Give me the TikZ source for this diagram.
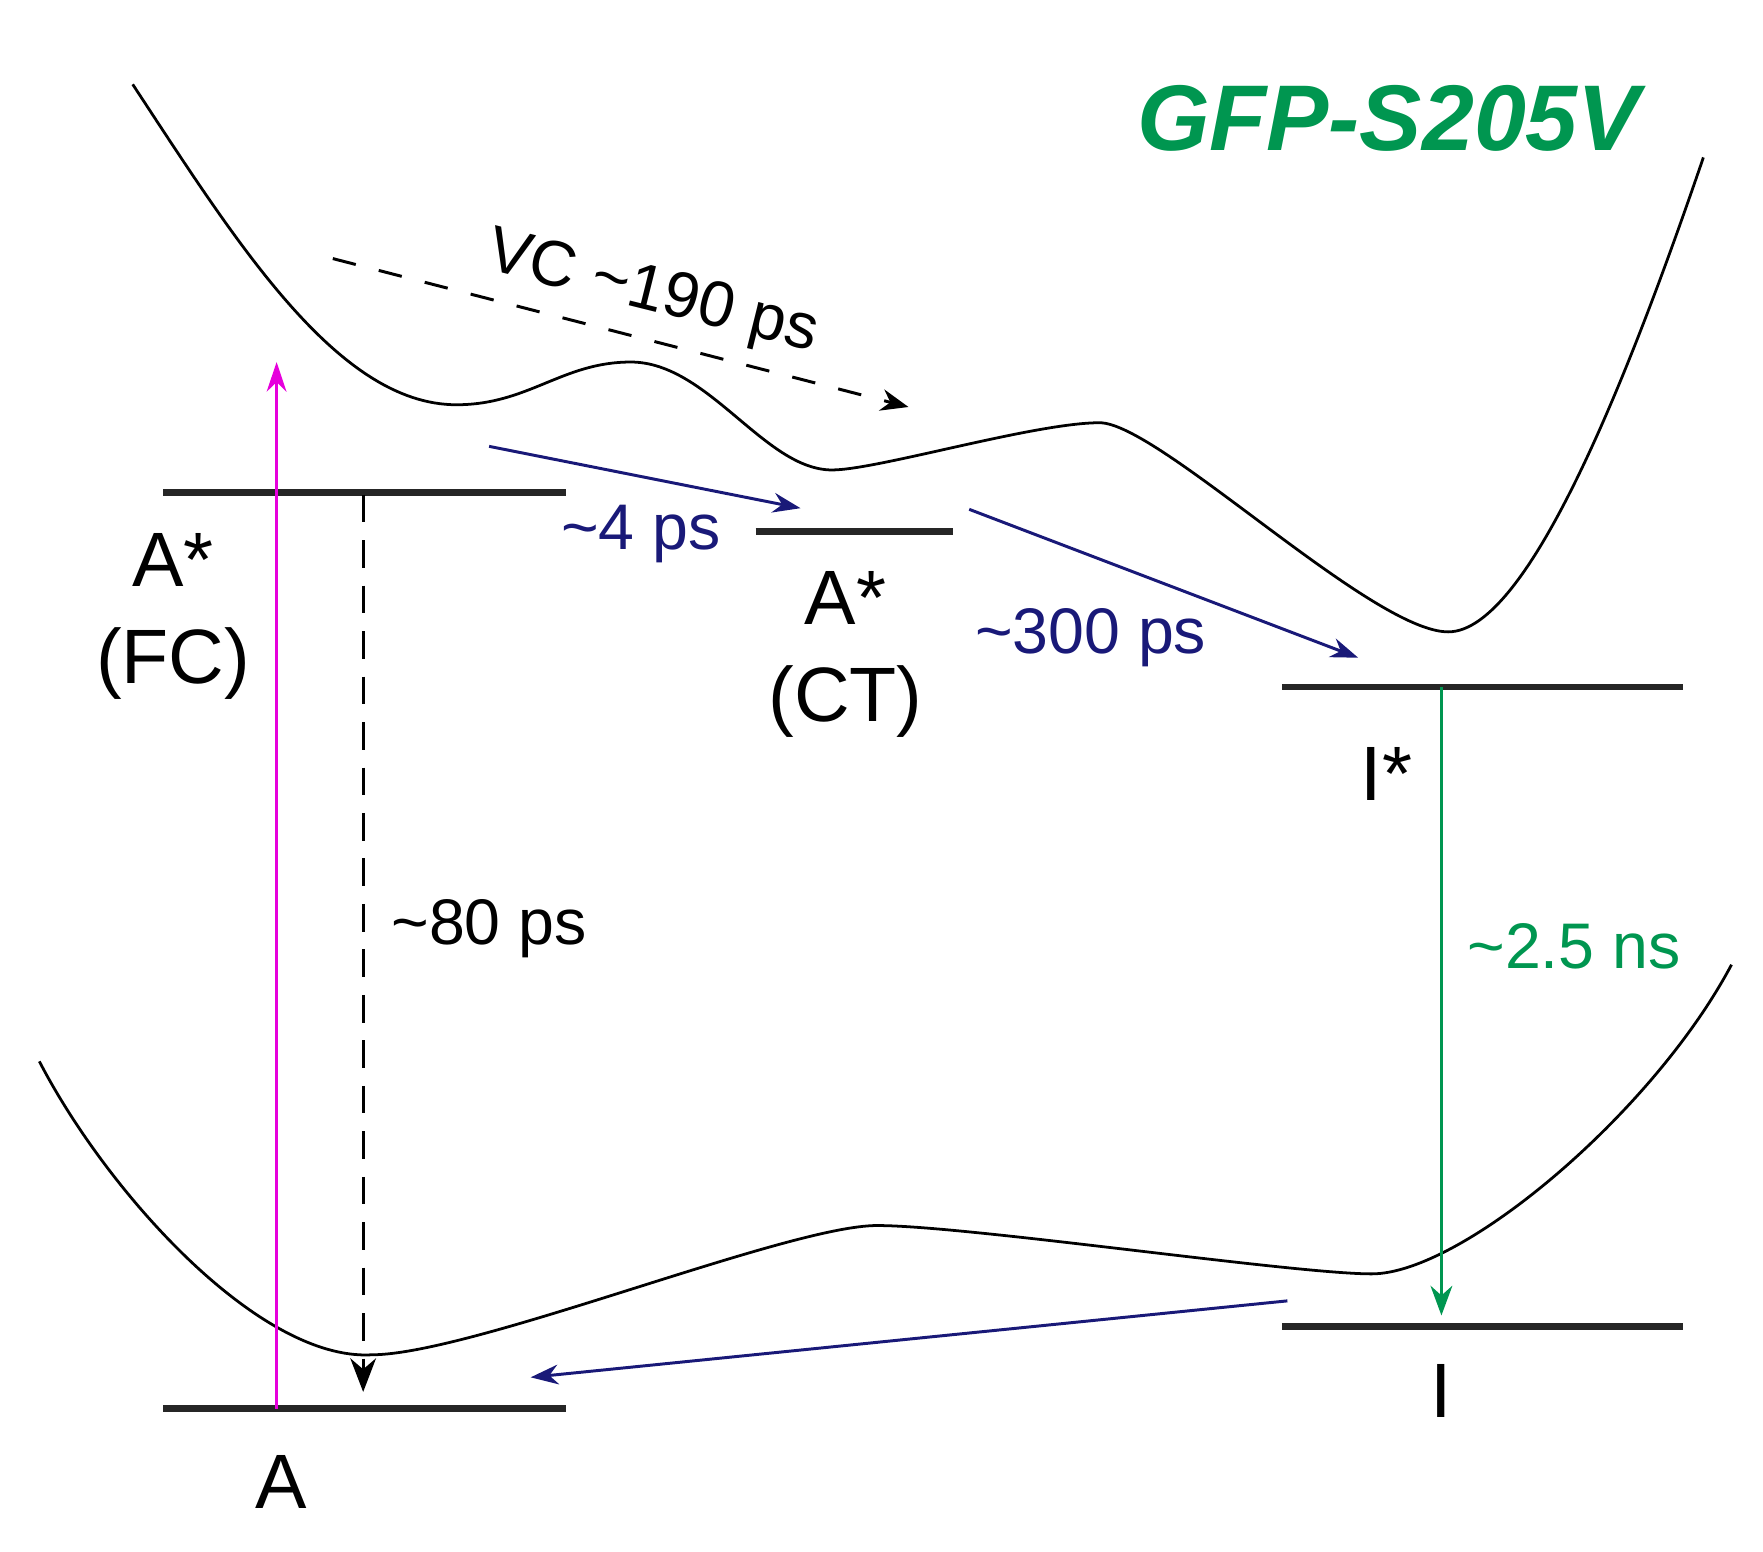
\documentclass[tikz,border=0pt]{standalone}
\usepackage{fontspec}
\setmainfont{Liberation Sans}
\usetikzlibrary{arrows.meta}
\usetikzlibrary{positioning}
\usepackage{xcolor}

\definecolor{gfpgreen}{RGB}{0,150,80}
\definecolor{ratenavy}{RGB}{25,25,120}
\definecolor{pumpmag}{RGB}{230,0,220}

\newcommand{\statefont}{\fontsize{19.5}{24.5}\selectfont}
\newcommand{\ratefont}{\fontsize{16.3}{19}\selectfont}

\begin{document}
\begin{tikzpicture}[x=0.01cm, y=-0.01cm,
	level/.style={line width=1.7pt, draw=black!85},
	pes/.style={line width=0.7pt},
	rate/.style={-{Stealth[length=7pt,width=5pt]}, line width=0.75pt, ratenavy},
	relax/.style={-{Stealth[length=8.5pt,width=6.5pt]}, line width=0.75pt, dash pattern=on 7pt off 4.5pt},
	statelbl/.style={inner sep=0pt, align=center, font=\statefont},
	ratelbl/.style={inner sep=0pt, anchor=base, font=\ratefont}]
	
	\useasboundingbox (0,0) rectangle (1568,1380);
	
	%potential energy surfaces
	\draw[pes] (118,75) .. controls (210,215) and (300,360) .. (406,360)
		.. controls (470,360) and (500,322) .. (561,322)
		.. controls (630,322) and (680,418) .. (740,418)
		.. controls (780,418) and (920,376) .. (978,376)
		.. controls (1030,376) and (1220,562) .. (1288,562)
		.. controls (1360,562) and (1450,330) .. (1515,140);
	\draw[pes] (35,944) .. controls (95,1060) and (230,1210) .. (330,1205)
		.. controls (420,1205) and (700,1090) .. (780,1090)
		.. controls (860,1090) and (1150,1133) .. (1220,1133)
		.. controls (1300,1133) and (1470,990) .. (1540,858);
	
	%levels
	\coordinate (fcL) at (145,438);  \coordinate (fcR) at (503,438);
	\coordinate (ctL) at (672,473);  \coordinate (ctR) at (848,473);
	\coordinate (isL) at (1140,611); \coordinate (isR) at (1497,611);
	\coordinate (igL) at (1140,1180); \coordinate (igR) at (1497,1180);
	\coordinate (agL) at (145,1253); \coordinate (agR) at (503,1253);
	
	\draw[level] (fcL) -- (fcR);
	\draw[level] (ctL) -- (ctR);
	\draw[level] (isL) -- (isR);
	\draw[level] (igL) -- (igR);
	\draw[level] (agL) -- (agR);
	
	%arrow ends
	\coordinate (pumpS) at (246,1253);  \coordinate (pumpE) at (246,322);
	\coordinate (decS) at (323,440);    \coordinate (decE) at (323,1238);
	\coordinate (fluS) at (1282,611);   \coordinate (fluE) at (1282,1170);
	\coordinate (ctS) at (435,397);     \coordinate (ctE) at (712,452);
	\coordinate (esptS) at (862,453);   \coordinate (esptE) at (1208,585);
	\coordinate (backS) at (1145,1157); \coordinate (backE) at (472,1225);
	\coordinate (vcS) at (296,230);     \coordinate (vcE) at (808,362);
	
	%arrows
	\draw[-{Stealth[length=7.5pt,width=5pt]}, line width=0.6pt, pumpmag] (pumpS) -- (pumpE);
	\draw[relax] (decS) -- (decE);
	\draw[-{Stealth[length=7.5pt,width=5.5pt]}, line width=0.9pt, gfpgreen] (fluS) -- (fluE);
	\draw[rate] (ctS) -- (ctE);
	\draw[rate] (esptS) -- (esptE);
	\draw[rate] (backS) -- (backE);
	\draw[-{Stealth[length=7pt,width=5.5pt]}, line width=0.75pt, dash pattern=on 6pt off 6pt] (vcS) -- (vcE);
	
	%labels
	\node[statelbl] (afc) at (154,548) {A*\\(FC)};
	\node[statelbl] (act) at (752,582) {A*\\(CT)};
	\node[statelbl] (istar) at (1233,688) {I*};
	\node[statelbl] (ig) at (1282,1237) {I};
	\node[statelbl] (ag) at (250,1318) {A};
	
	\node[ratelbl, ratenavy] (r4) at (570,489) {\textasciitilde4 ps};
	\node[ratelbl, ratenavy] (r300) at (970,581) {\textasciitilde300 ps};
	\node[ratelbl] (r80) at (435,840) {\textasciitilde80 ps};
	\node[ratelbl, gfpgreen] (r25) at (1400,861) {\textasciitilde2.5 ns};
	\node[inner sep=0pt, font=\ratefont, rotate=-14] (rvc) at (580,262) {VC \textasciitilde190 ps};
	
	\node[inner sep=0pt, gfpgreen, font=\fontsize{23.6}{28}\selectfont\bfseries\itshape] (title) at (1235,105) {GFP-S205V};
	
\end{tikzpicture}
\end{document}
